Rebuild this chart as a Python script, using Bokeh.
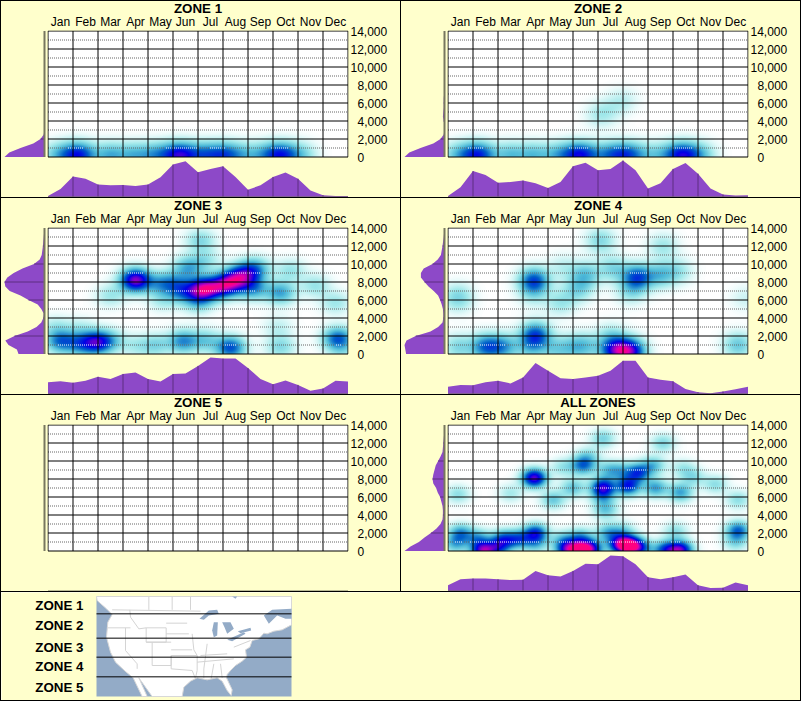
import numpy as np
from bokeh.embed import file_html
from bokeh.resources import INLINE
from bokeh.plotting import figure
from bokeh.layouts import row, column
from bokeh.models import (Range1d, LinearAxis, FixedTicker, Label, LinearColorMapper, Spacer)

MONTHS = ["Jan","Feb","Mar","Apr","May","Jun","Jul","Aug","Sep","Oct","Nov","Dec"]
ZONE_NAMES = ["ZONE 1","ZONE 2","ZONE 3","ZONE 4","ZONE 5","ALL ZONES"]
FOOT_NAMES = ["ZONE 1","ZONE 2","ZONE 3","ZONE 4","ZONE 5"]
FOOT_Y = [45,105,172,229,290]
ZONE_LINES = [70,143,200,259]

# (month position, elevation in thousand feet, weight)
OBS1 = [(.35,.2,.22),(1.05,.2,.44),(1.5,.2,.26),(2.5,.2,.3),(3.4,.2,.26),(4.2,.2,.28),(4.95,.2,.4),(5.5,.2,.46),
        (6.3,.2,.36),(7.0,.2,.4),(7.6,.2,.22),(8.3,.2,.18),(9.0,.2,.36),(9.5,.2,.38),(10.2,.2,.18)]
OBS2 = [(.35,.2,.22),(1.05,.2,.44),(1.5,.2,.24),(2.5,.2,.26),(3.4,.2,.26),(4.3,.2,.23),(5.0,.2,.37),(5.5,.2,.4),
        (6.4,.2,.3),(7.0,.2,.37),(7.5,.2,.24),(8.3,.2,.18),(9.1,.2,.38),(9.6,.2,.4),(10.2,.2,.18),
        (6.1,4.7,.13),(7.0,6.3,.09),(6.6,5.5,.05)]
OBS3 = [(.5,1.4,.42),(1.3,1.1,.32),(1.95,1.3,.58),(2.5,1.5,.2),(4.3,1,.2),(5.4,1.4,.38),(6.3,1.5,.22),(7.3,.7,.5),
        (9.3,.8,.2),(9.2,3,.1),(11.6,1.7,.48),(.3,3,.12),(1.3,2.8,.1),(3.5,.9,.12),(11.8,.2,.1),
        (3.5,8.2,.8),(6.2,7.2,.75),(6.8,7.4,.35),(7.2,7.7,.5),(7.6,8.5,.5),(8.0,9.0,.25),(5.4,7,.35),(5.0,8,.2),(5.6,9.6,.3),(8.3,9.5,.28),
        (8.2,7.3,.35),(9.3,6.8,.34),(6.0,5.8,.22),(6.1,12.6,.2),(6.3,10.4,.15),(9.7,9.3,.16),(10.7,7.6,.16),
        (11.5,5.7,.15),(2.5,6.5,.15),(4.5,7.8,.25),(4.6,6,.13)]
OBS4 = [(3.44,8.1,.52),(7.57,8.5,.5),(3.5,2.1,.5),(1.5,.8,.42),(2.2,.8,.33),(.4,.8,.2),(6.7,.4,.6),(7.3,.3,.65),
        (6.5,2,.15),(3.3,.7,.2),(5,.8,.18),(5.5,.9,.2),(4.3,.5,.18),(11.6,1,.25),
        (.4,6.5,.15),(.4,5.8,.08),(4.5,5.7,.15),(3.4,6.5,.1),(4.6,9.7,.1),(5.5,8.8,.25),(5.2,7.2,.2),(6.1,12.6,.2),
        (6.6,9.5,.2),(8.5,8.8,.25),(9.2,9.2,.15),(8.6,12,.15),(7.3,6.9,.15),(11.9,6.2,.08)]
OBS5 = []
OBS6 = [(1.4,0,.72),(4.8,.1,.62),(5.3,.1,.6),(5.7,.2,.62),(6.9,.7,.66),(7.3,.6,.78),(7.7,.3,.36),(9.3,.1,.72),(8.7,.1,.5),
        (2,.3,.4),(3.5,2,.55),(.5,2,.36),(9.1,2.2,.18),(11.6,2.3,.45),(11.5,1,.2),(.3,.8,.3),(1.2,1.4,.32),(2.2,1.3,.42),
        (2.8,1.3,.42),(3.5,.8,.25),(6.4,2,.3),(7,2.2,.2),(4.6,1.2,.25),(5.3,1.5,.32),
        (3.45,8.1,.75),(6.2,7.1,.62),(7.2,7.2,.58),(7.6,8.7,.5),(6.2,6.1,.25),(6.9,8.9,.22),(6.3,4.6,.26),(4.2,5.7,.25),
        (5,7,.26),(5.4,9.5,.42),(5.6,10.5,.18),(6.4,9,.22),(8.2,9.5,.28),(8.3,7,.35),(9.3,6.5,.34),(9.8,8.2,.18),
        (10.7,7.4,.18),(11.6,5.7,.18),(.4,6.3,.18),(2.5,6.4,.14),(6.2,12.5,.22),(8.6,12,.2),(4.6,9.3,.16),(9.4,9.2,.14)]
ALL_OBS = [OBS1,OBS2,OBS3,OBS4,OBS5,OBS6]
SIGMA_X = [.42,.42,.42,.42,.42,.34]
SIGMA_Y = [1.0,1.0,.9,1.0,1.0,.72]

# month profile under each panel, at half-month positions
MONTH_POS = [i/2 for i in range(25)]
BOT1 = [.03,.22,.56,.5,.34,.32,.33,.3,.34,.54,.89,.98,.68,.77,.84,.55,.2,.32,.55,.67,.5,.18,.05,.03,.03]
BOT2 = [.03,.27,.71,.6,.39,.41,.45,.38,.25,.41,.84,.94,.73,.77,1.0,.73,.23,.38,.77,.93,.64,.23,.07,.04,.05]
BOT3 = [.32,.35,.31,.36,.47,.41,.55,.59,.41,.34,.55,.56,.77,1.0,.97,.97,.71,.41,.27,.37,.25,.09,.15,.36,.34]
BOT4 = [.2,.25,.24,.32,.36,.29,.45,.85,.64,.43,.41,.45,.5,.64,.91,.91,.45,.39,.35,.14,.05,.02,.07,.13,.2]
BOT5 = [0]*25
BOT6 = [.16,.32,.34,.34,.32,.3,.31,.55,.43,.4,.55,.75,.73,.97,.95,.73,.38,.32,.38,.45,.16,.08,.09,.23,.16]
ALL_BOT = [BOT1,BOT2,BOT3,BOT4,BOT5,BOT6]

# elevation profile left of each panel
ELEV_POS = [0,500,1000,1500,2000,2500,3000,3500,4000,4500,5000,5500,6000,6500,7000,7500,8000,8500,9000,9500,10000,10500,11000,12000,13000,14000]
LEFT1 = [1,.88,.6,.28,.1,.02]+[0]*20
LEFT2 = [1,.88,.6,.28,.1,.02,0,0,.02,.04,.03,.02,.02,.02,.01]+[0]*11
LEFT3 = [.65,.69,.9,.98,.75,.42,.2,.08,.03,.02,.08,.17,.4,.6,.87,.98,1.0,.93,.77,.55,.26,.12,.07,.04,.02,0]
LEFT4 = [.96,.98,1,.95,.72,.35,.16,.05,.03,.03,.04,.07,.11,.16,.27,.4,.5,.59,.59,.52,.3,.17,.09,.05,.02,0]
LEFT5 = [0]*26
LEFT6 = [1,.85,.64,.5,.34,.2,.1,.05,.04,.04,.05,.08,.11,.17,.21,.28,.3,.28,.25,.22,.16,.1,.05,.03,.01,0]
ALL_LEFT = [LEFT1,LEFT2,LEFT3,LEFT4,LEFT5,LEFT6]

Y_TICKS = [0,2000,4000,6000,8000]
Y_TICKS_WIDE = [10000,12000,14000]

# map outline
LAND_X = [288,873,873,873,845,820,800,790,775,755,748,735,738,725,705,690,680,678,695,692,680,665,650,620,590,570,550,545,455,415,440,425,398,375,345,330,318,322,335,318,290]
LAND_Y = [18,18,60,103,118,122,130,128,145,150,170,178,200,212,225,240,252,262,298,315,300,272,262,268,262,272,290,318,318,262,318,318,262,243,215,185,140,95,72,55,30]
LAKES_X = [[597,625,650,655,625,610],[640,652,650,640,635],[665,690,700,680,672],[680,730,735,695],[712,750,752,720],[695,710,705],[790,815,873,873,855,830,805]]
LAKES_Y = [[85,60,58,70,75,88],[95,95,135,140,120],[95,95,115,130,110],[148,125,130,152],[122,112,120,128],[18,18,25],[75,58,55,85,85,75,100]]
BORDERS_X = [[335,600],[445,445],[515,515],[570,570],[388,390,415,437,437],[437,497,497,437],[497,560],[497,565],[322,390],[375,375,410,410],
             [455,455,512,512],[437,512],[512,575],[512,590],[512,512,575,585],[575,580,590,590,585],[620,610,610],[640,632],[660,665],[590,700],[600,680],[700,750]]
BORDERS_Y = [[58,62],[18,58],[18,58],[18,58],[58,80,115,112,155],[112,112,155,155],[98,98],[130,130],[112,112],[112,180,220,235],
             [155,225,225,195],[155,155],[178,178],[195,195],[195,235,240,265],[130,178,195,240,262],[160,235,262],[220,265],[220,262],[215,205],[195,190],[170,150]]

BG = "#FFFFCC"
PURPLE = "#8D49C8"
DARK = "#5C2E80"
AXIS = "#77775F"
OCEAN = "#93ABC7"
FONT = "Liberation Sans"

stops = [0,.05,.15,.30,.47,.65,.80,.92,1.0]
cols = ["#ffffff","#dff8f8","#a0e8ea","#50bcd8","#0060c8","#0000e6","#8000c8","#e000b0","#ff0080"]
rgb = np.array([[int(c[i:i+2],16) for i in (1,3,5)] for c in cols],float)
PALETTE = ["#%02x%02x%02x"%tuple(int(round(np.interp(v,stops,rgb[:,k]))) for k in range(3)) for v in np.linspace(0,1,256)]
mapper = LinearColorMapper(palette=PALETTE, low=0, high=1)

xs = (np.arange(300)+.5)/25
ys = (np.arange(126)+.5)/9

def density(obs, xv, yv, sx, sy):
    X,Y = np.meshgrid(xv,yv)
    d = np.zeros_like(X)
    for m,e,w in obs:
        d += w*np.exp(-(X-m)**2/(2*sx**2)-(Y-e)**2/(2*sy**2))
    return np.clip(d,0,1)

XR = (-.02,12.02)
YTOP = 14000+.5*1000/9
YR = (YTOP-167/9*1000, YTOP)
YR_LEFT = (YTOP-127/9*1000, YTOP)
LIFT = 6

def base(width,height,**kw):
    p = figure(width=width,height=height,toolbar_location=None,output_backend="svg",frame_align=False,
               x_axis_type=None,y_axis_type=None,min_border_left=kw.pop("l",0),min_border_right=kw.pop("r",0),
               min_border_top=kw.pop("t",0),min_border_bottom=kw.pop("b",0),**kw)
    p.outline_line_color=None
    p.border_fill_color=BG
    p.background_fill_color=BG
    return p

def text_axis(ticks,overrides,standoff,size="12px",style="normal",lh=1.2):
    return LinearAxis(ticker=FixedTicker(ticks=ticks),major_label_overrides=overrides,
                      major_tick_line_color=None,minor_tick_line_color=None,axis_line_color=None,
                      major_tick_out=0,major_tick_in=0,minor_tick_out=0,minor_tick_in=0,
                      major_label_text_font=FONT,major_label_text_font_size=size,
                      major_label_text_font_style=style,major_label_text_color="#000000",
                      major_label_text_line_height=lh,major_label_standoff=standoff)

def panel(i):
    name,obs,bot,left = ZONE_NAMES[i],ALL_OBS[i],ALL_BOT[i],ALL_LEFT[i]
    sx,sy = SIGMA_X[i],SIGMA_Y[i]
    h = base(353,196+LIFT,l=0,r=52,t=29+LIFT,b=0,x_range=Range1d(*XR),y_range=Range1d(*YR),
             styles={"margin-top":f"-{LIFT}px"})
    h.border_fill_color=None
    h.background_fill_color=None
    h.extra_y_ranges={"bot":Range1d(-.5/36.5,166.5/36.5)}
    d = density(obs,xs,ys,sx,sy)
    h.image(image=[d],x=0,y=0,dw=12,dh=14000,color_mapper=mapper)
    xx = np.arange(0,12.0001,.04)
    for e in range(1000,14000,2000):
        v = density(obs,xx,np.array([e/1000]),sx,sy)[0]
        dark = np.where(v<.4,e,np.nan).astype(float)
        lite = np.where(v>=.4,e,np.nan).astype(float)
        h.line(xx,dark,line_color="#666666",line_width=1,line_dash="1 1")
        if np.isfinite(lite).any():
            h.line(xx,lite,line_color="#ffffff",line_width=1,line_dash="1 1")
    mk = list(range(13))
    h.segment(x0=mk,x1=mk,y0=[0]*13,y1=[14000]*13,line_color="#000000",line_width=1)
    el = list(range(0,14001,2000))
    h.segment(x0=[0]*8,x1=[12]*8,y0=el,y1=el,line_color="#000000",line_width=1)
    # bottom profile
    h.varea(x=MONTH_POS,y1=[0]*25,y2=bot,fill_color=PURPLE,y_range_name="bot")
    mm = list(range(1,12))
    h.segment(x0=mm,x1=mm,y0=[0]*11,y1=list(np.interp(mm,MONTH_POS,bot)),line_color=DARK,line_width=1,y_range_name="bot")
    h.line([0,12],[0,0],line_color=AXIS,line_width=1,y_range_name="bot")

    h.add_layout(text_axis([k+.5 for k in range(12)],{k+.5:MONTHS[k] for k in range(12)},2,lh=.8),"above")
    h.add_layout(text_axis([6],{6:name},-4,"13.33px","bold",lh=.8),"above")
    h.add_layout(text_axis(Y_TICKS_WIDE,{v:f"{v:,}" for v in Y_TICKS_WIDE},2),"right")
    h.add_layout(text_axis(Y_TICKS,{v:f"{v:,}" for v in Y_TICKS},-33),"right")

    # left profile
    lf = base(46,196,t=29,b=40,x_range=Range1d(43/40,-3/40),y_range=Range1d(*YR_LEFT))
    lf.harea(x1=left,x2=[0]*len(left),y=ELEV_POS,fill_color=PURPLE)
    tk = list(range(2000,14000,2000))
    lf.segment(x0=[0]*len(tk),x1=list(np.interp(tk,ELEV_POS,left)),y0=tk,y1=tk,line_color=DARK,line_width=1)
    lf.line([0,0],[0,14000],line_color=AXIS,line_width=2)
    return row(lf,h,spacing=0,styles={"background-color":BG})

def vline(h):
    return Spacer(width=1,height=h,styles={"background-color":"#000000"})
def hline():
    return Spacer(width=801,height=1,styles={"background-color":"#000000"})

# footer: data units are third-of-a-pixel steps of the small map
ft = base(799,108,x_range=Range1d(3,3+799*3),y_range=Range1d(6+108*3,6))
ft.quad(left=[288],right=[873],bottom=[318],top=[18],fill_color=OCEAN,line_color=None)
ft.patch(LAND_X,LAND_Y,fill_color="#ffffff",line_color="#d8d8d8",line_width=1)
ft.patches(LAKES_X,LAKES_Y,fill_color=OCEAN,line_color=None)
ft.multi_line(BORDERS_X,BORDERS_Y,line_color="#d4d4d4",line_width=1)
ft.segment(x0=[288]*4,x1=[873]*4,y0=ZONE_LINES,y1=ZONE_LINES,line_color="#000000",line_width=1)
for n,y in zip(FOOT_NAMES,FOOT_Y):
    ft.add_layout(Label(x=249,y=y,text=n,text_align="right",text_baseline="middle",
                        text_font=FONT,text_font_size="13.33px",text_font_style="bold",text_color="#000000"))

rows=[hline()]
for r in range(3):
    rows.append(row(vline(196),panel(2*r),vline(196),panel(2*r+1),vline(196),spacing=0))
    rows.append(hline())
rows.append(row(vline(108),ft,vline(108),spacing=0))
rows.append(hline())
root = column(*rows,spacing=0,styles={"position":"absolute","left":"0px","top":"0px"})

open("out.html","w").write(file_html(root,INLINE))
